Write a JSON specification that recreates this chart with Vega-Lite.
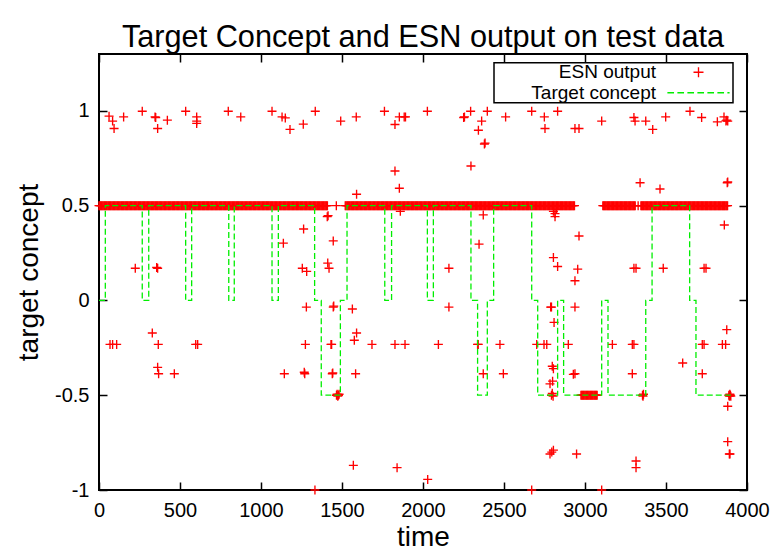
{
  "$schema": "https://vega.github.io/schema/vega-lite/v6.json",
  "width": 648,
  "height": 436,
  "autosize": {"type": "none"},
  "padding": {"left": 99, "top": 54, "right": 26, "bottom": 61},
  "background": "white",
  "title": {"text": "Target Concept and ESN output on test data", "fontSize": 30.7, "font": "Liberation Sans", "fontWeight": "normal", "color": "black", "offset": 0, "anchor": "middle"},
  "datasets": {
    "esn": [
{"t":0,"v":0.5},{"t":5,"v":0.5},{"t":10,"v":0.5},{"t":15,"v":0.5},{"t":20,"v":0.5},{"t":25,"v":0.5},{"t":30,"v":0.5},{"t":35,"v":0.5},{"t":40,"v":0.5},{"t":45,"v":0.5},{"t":50,"v":0.5},{"t":55,"v":0.5},{"t":60,"v":0.5},{"t":65,"v":0.5},{"t":70,"v":0.5},{"t":75,"v":0.5},{"t":80,"v":0.5},{"t":85,"v":0.5},{"t":90,"v":0.5},{"t":95,"v":0.5},
{"t":100,"v":0.5},{"t":105,"v":0.5},{"t":110,"v":0.5},{"t":115,"v":0.5},{"t":120,"v":0.5},{"t":125,"v":0.5},{"t":130,"v":0.5},{"t":135,"v":0.5},{"t":140,"v":0.5},{"t":145,"v":0.5},{"t":150,"v":0.5},{"t":155,"v":0.5},{"t":160,"v":0.5},{"t":165,"v":0.5},{"t":170,"v":0.5},{"t":175,"v":0.5},{"t":180,"v":0.5},{"t":185,"v":0.5},{"t":190,"v":0.5},{"t":195,"v":0.5},
{"t":200,"v":0.5},{"t":205,"v":0.5},{"t":210,"v":0.5},{"t":215,"v":0.5},{"t":220,"v":0.5},{"t":225,"v":0.5},{"t":230,"v":0.5},{"t":235,"v":0.5},{"t":240,"v":0.5},{"t":245,"v":0.5},{"t":250,"v":0.5},{"t":255,"v":0.5},{"t":260,"v":0.5},{"t":265,"v":0.5},{"t":270,"v":0.5},{"t":275,"v":0.5},{"t":280,"v":0.5},{"t":285,"v":0.5},{"t":290,"v":0.5},{"t":295,"v":0.5},
{"t":300,"v":0.5},{"t":305,"v":0.5},{"t":310,"v":0.5},{"t":315,"v":0.5},{"t":320,"v":0.5},{"t":325,"v":0.5},{"t":330,"v":0.5},{"t":335,"v":0.5},{"t":340,"v":0.5},{"t":345,"v":0.5},{"t":350,"v":0.5},{"t":355,"v":0.5},{"t":360,"v":0.5},{"t":365,"v":0.5},{"t":370,"v":0.5},{"t":375,"v":0.5},{"t":380,"v":0.5},{"t":385,"v":0.5},{"t":390,"v":0.5},{"t":395,"v":0.5},
{"t":400,"v":0.5},{"t":405,"v":0.5},{"t":410,"v":0.5},{"t":415,"v":0.5},{"t":420,"v":0.5},{"t":425,"v":0.5},{"t":430,"v":0.5},{"t":435,"v":0.5},{"t":440,"v":0.5},{"t":445,"v":0.5},{"t":450,"v":0.5},{"t":455,"v":0.5},{"t":460,"v":0.5},{"t":465,"v":0.5},{"t":470,"v":0.5},{"t":475,"v":0.5},{"t":480,"v":0.5},{"t":485,"v":0.5},{"t":490,"v":0.5},{"t":495,"v":0.5},
{"t":500,"v":0.5},{"t":505,"v":0.5},{"t":510,"v":0.5},{"t":515,"v":0.5},{"t":520,"v":0.5},{"t":525,"v":0.5},{"t":530,"v":0.5},{"t":535,"v":0.5},{"t":540,"v":0.5},{"t":545,"v":0.5},{"t":550,"v":0.5},{"t":555,"v":0.5},{"t":560,"v":0.5},{"t":565,"v":0.5},{"t":570,"v":0.5},{"t":575,"v":0.5},{"t":580,"v":0.5},{"t":585,"v":0.5},{"t":590,"v":0.5},{"t":595,"v":0.5},
{"t":600,"v":0.5},{"t":605,"v":0.5},{"t":610,"v":0.5},{"t":615,"v":0.5},{"t":620,"v":0.5},{"t":625,"v":0.5},{"t":630,"v":0.5},{"t":635,"v":0.5},{"t":640,"v":0.5},{"t":645,"v":0.5},{"t":650,"v":0.5},{"t":655,"v":0.5},{"t":660,"v":0.5},{"t":665,"v":0.5},{"t":670,"v":0.5},{"t":675,"v":0.5},{"t":680,"v":0.5},{"t":685,"v":0.5},{"t":690,"v":0.5},{"t":695,"v":0.5},
{"t":700,"v":0.5},{"t":705,"v":0.5},{"t":710,"v":0.5},{"t":715,"v":0.5},{"t":720,"v":0.5},{"t":725,"v":0.5},{"t":730,"v":0.5},{"t":735,"v":0.5},{"t":740,"v":0.5},{"t":745,"v":0.5},{"t":750,"v":0.5},{"t":755,"v":0.5},{"t":760,"v":0.5},{"t":765,"v":0.5},{"t":770,"v":0.5},{"t":775,"v":0.5},{"t":780,"v":0.5},{"t":785,"v":0.5},{"t":790,"v":0.5},{"t":795,"v":0.5},
{"t":800,"v":0.5},{"t":805,"v":0.5},{"t":810,"v":0.5},{"t":815,"v":0.5},{"t":820,"v":0.5},{"t":825,"v":0.5},{"t":830,"v":0.5},{"t":835,"v":0.5},{"t":840,"v":0.5},{"t":845,"v":0.5},{"t":850,"v":0.5},{"t":855,"v":0.5},{"t":860,"v":0.5},{"t":865,"v":0.5},{"t":870,"v":0.5},{"t":875,"v":0.5},{"t":880,"v":0.5},{"t":885,"v":0.5},{"t":890,"v":0.5},{"t":895,"v":0.5},
{"t":900,"v":0.5},{"t":905,"v":0.5},{"t":910,"v":0.5},{"t":915,"v":0.5},{"t":920,"v":0.5},{"t":925,"v":0.5},{"t":930,"v":0.5},{"t":935,"v":0.5},{"t":940,"v":0.5},{"t":945,"v":0.5},{"t":950,"v":0.5},{"t":955,"v":0.5},{"t":960,"v":0.5},{"t":965,"v":0.5},{"t":970,"v":0.5},{"t":975,"v":0.5},{"t":980,"v":0.5},{"t":985,"v":0.5},{"t":990,"v":0.5},{"t":995,"v":0.5},
{"t":1000,"v":0.5},{"t":1005,"v":0.5},{"t":1010,"v":0.5},{"t":1015,"v":0.5},{"t":1020,"v":0.5},{"t":1025,"v":0.5},{"t":1030,"v":0.5},{"t":1035,"v":0.5},{"t":1040,"v":0.5},{"t":1045,"v":0.5},{"t":1050,"v":0.5},{"t":1055,"v":0.5},{"t":1060,"v":0.5},{"t":1065,"v":0.5},{"t":1070,"v":0.5},{"t":1075,"v":0.5},{"t":1080,"v":0.5},{"t":1085,"v":0.5},{"t":1090,"v":0.5},{"t":1095,"v":0.5},
{"t":1100,"v":0.5},{"t":1105,"v":0.5},{"t":1110,"v":0.5},{"t":1115,"v":0.5},{"t":1120,"v":0.5},{"t":1125,"v":0.5},{"t":1130,"v":0.5},{"t":1135,"v":0.5},{"t":1140,"v":0.5},{"t":1145,"v":0.5},{"t":1150,"v":0.5},{"t":1155,"v":0.5},{"t":1160,"v":0.5},{"t":1165,"v":0.5},{"t":1170,"v":0.5},{"t":1175,"v":0.5},{"t":1180,"v":0.5},{"t":1185,"v":0.5},{"t":1190,"v":0.5},{"t":1195,"v":0.5},
{"t":1200,"v":0.5},{"t":1205,"v":0.5},{"t":1210,"v":0.5},{"t":1215,"v":0.5},{"t":1220,"v":0.5},{"t":1225,"v":0.5},{"t":1230,"v":0.5},{"t":1235,"v":0.5},{"t":1240,"v":0.5},{"t":1245,"v":0.5},{"t":1250,"v":0.5},{"t":1255,"v":0.5},{"t":1260,"v":0.5},{"t":1265,"v":0.5},{"t":1270,"v":0.5},{"t":1275,"v":0.5},{"t":1280,"v":0.5},{"t":1285,"v":0.5},{"t":1290,"v":0.5},{"t":1295,"v":0.5},
{"t":1300,"v":0.5},{"t":1305,"v":0.5},{"t":1310,"v":0.5},{"t":1315,"v":0.5},{"t":1320,"v":0.5},{"t":1325,"v":0.5},{"t":1330,"v":0.5},{"t":1335,"v":0.5},{"t":1340,"v":0.5},{"t":1345,"v":0.5},{"t":1350,"v":0.5},{"t":1355,"v":0.5},{"t":1360,"v":0.5},{"t":1365,"v":0.5},{"t":1370,"v":0.5},{"t":1375,"v":0.5},{"t":1380,"v":0.5},{"t":1385,"v":0.5},{"t":1390,"v":0.5},{"t":1395,"v":0.5},
{"t":1400,"v":0.5},{"t":1405,"v":0.5},{"t":1410,"v":0.5},
{"t":1465,"v":0.5},
{"t":1520,"v":0.5},{"t":1525,"v":0.5},{"t":1530,"v":0.5},{"t":1535,"v":0.5},{"t":1540,"v":0.5},{"t":1545,"v":0.5},{"t":1550,"v":0.5},{"t":1555,"v":0.5},{"t":1560,"v":0.5},{"t":1565,"v":0.5},{"t":1570,"v":0.5},{"t":1575,"v":0.5},{"t":1580,"v":0.5},{"t":1585,"v":0.5},{"t":1590,"v":0.5},{"t":1595,"v":0.5},
{"t":1600,"v":0.5},{"t":1605,"v":0.5},{"t":1610,"v":0.5},{"t":1615,"v":0.5},{"t":1620,"v":0.5},{"t":1625,"v":0.5},{"t":1630,"v":0.5},{"t":1635,"v":0.5},{"t":1640,"v":0.5},{"t":1645,"v":0.5},{"t":1650,"v":0.5},{"t":1655,"v":0.5},{"t":1660,"v":0.5},{"t":1665,"v":0.5},{"t":1670,"v":0.5},{"t":1675,"v":0.5},{"t":1680,"v":0.5},{"t":1685,"v":0.5},{"t":1690,"v":0.5},{"t":1695,"v":0.5},
{"t":1700,"v":0.5},{"t":1705,"v":0.5},{"t":1710,"v":0.5},{"t":1715,"v":0.5},{"t":1720,"v":0.5},{"t":1725,"v":0.5},{"t":1730,"v":0.5},{"t":1735,"v":0.5},{"t":1740,"v":0.5},{"t":1745,"v":0.5},{"t":1750,"v":0.5},{"t":1755,"v":0.5},{"t":1760,"v":0.5},{"t":1765,"v":0.5},{"t":1770,"v":0.5},{"t":1775,"v":0.5},{"t":1780,"v":0.5},{"t":1785,"v":0.5},{"t":1790,"v":0.5},{"t":1795,"v":0.5},
{"t":1800,"v":0.5},{"t":1805,"v":0.5},{"t":1810,"v":0.5},{"t":1815,"v":0.5},{"t":1820,"v":0.5},{"t":1825,"v":0.5},{"t":1830,"v":0.5},{"t":1835,"v":0.5},{"t":1840,"v":0.5},{"t":1845,"v":0.5},{"t":1850,"v":0.5},{"t":1855,"v":0.5},{"t":1860,"v":0.5},{"t":1865,"v":0.5},{"t":1870,"v":0.5},{"t":1875,"v":0.5},{"t":1880,"v":0.5},{"t":1885,"v":0.5},{"t":1890,"v":0.5},{"t":1895,"v":0.5},
{"t":1900,"v":0.5},{"t":1905,"v":0.5},{"t":1910,"v":0.5},{"t":1915,"v":0.5},{"t":1920,"v":0.5},{"t":1925,"v":0.5},{"t":1930,"v":0.5},{"t":1935,"v":0.5},{"t":1940,"v":0.5},{"t":1945,"v":0.5},{"t":1950,"v":0.5},{"t":1955,"v":0.5},{"t":1960,"v":0.5},{"t":1965,"v":0.5},{"t":1970,"v":0.5},{"t":1975,"v":0.5},{"t":1980,"v":0.5},{"t":1985,"v":0.5},{"t":1990,"v":0.5},{"t":1995,"v":0.5},
{"t":2000,"v":0.5},{"t":2005,"v":0.5},{"t":2010,"v":0.5},{"t":2015,"v":0.5},{"t":2020,"v":0.5},{"t":2025,"v":0.5},{"t":2030,"v":0.5},{"t":2035,"v":0.5},{"t":2040,"v":0.5},{"t":2045,"v":0.5},{"t":2050,"v":0.5},{"t":2055,"v":0.5},{"t":2060,"v":0.5},{"t":2065,"v":0.5},{"t":2070,"v":0.5},{"t":2075,"v":0.5},{"t":2080,"v":0.5},{"t":2085,"v":0.5},{"t":2090,"v":0.5},{"t":2095,"v":0.5},
{"t":2100,"v":0.5},{"t":2105,"v":0.5},{"t":2110,"v":0.5},{"t":2115,"v":0.5},{"t":2120,"v":0.5},{"t":2125,"v":0.5},{"t":2130,"v":0.5},{"t":2135,"v":0.5},{"t":2140,"v":0.5},{"t":2145,"v":0.5},{"t":2150,"v":0.5},{"t":2155,"v":0.5},{"t":2160,"v":0.5},{"t":2165,"v":0.5},{"t":2170,"v":0.5},{"t":2175,"v":0.5},{"t":2180,"v":0.5},{"t":2185,"v":0.5},{"t":2190,"v":0.5},{"t":2195,"v":0.5},
{"t":2200,"v":0.5},{"t":2205,"v":0.5},{"t":2210,"v":0.5},{"t":2215,"v":0.5},{"t":2220,"v":0.5},{"t":2225,"v":0.5},{"t":2230,"v":0.5},{"t":2235,"v":0.5},{"t":2240,"v":0.5},{"t":2245,"v":0.5},{"t":2250,"v":0.5},{"t":2255,"v":0.5},{"t":2260,"v":0.5},{"t":2265,"v":0.5},{"t":2270,"v":0.5},{"t":2275,"v":0.5},{"t":2280,"v":0.5},{"t":2285,"v":0.5},{"t":2290,"v":0.5},{"t":2295,"v":0.5},
{"t":2300,"v":0.5},{"t":2305,"v":0.5},{"t":2310,"v":0.5},{"t":2315,"v":0.5},{"t":2320,"v":0.5},{"t":2325,"v":0.5},{"t":2330,"v":0.5},{"t":2335,"v":0.5},{"t":2340,"v":0.5},{"t":2345,"v":0.5},{"t":2350,"v":0.5},{"t":2355,"v":0.5},{"t":2360,"v":0.5},{"t":2365,"v":0.5},{"t":2370,"v":0.5},{"t":2375,"v":0.5},{"t":2380,"v":0.5},{"t":2385,"v":0.5},{"t":2390,"v":0.5},{"t":2395,"v":0.5},
{"t":2400,"v":0.5},{"t":2405,"v":0.5},{"t":2410,"v":0.5},{"t":2415,"v":0.5},{"t":2420,"v":0.5},{"t":2425,"v":0.5},{"t":2430,"v":0.5},{"t":2435,"v":0.5},{"t":2440,"v":0.5},{"t":2445,"v":0.5},{"t":2450,"v":0.5},{"t":2455,"v":0.5},{"t":2460,"v":0.5},{"t":2465,"v":0.5},{"t":2470,"v":0.5},{"t":2475,"v":0.5},{"t":2480,"v":0.5},{"t":2485,"v":0.5},{"t":2490,"v":0.5},{"t":2495,"v":0.5},
{"t":2500,"v":0.5},{"t":2505,"v":0.5},{"t":2510,"v":0.5},{"t":2515,"v":0.5},{"t":2520,"v":0.5},{"t":2525,"v":0.5},{"t":2530,"v":0.5},{"t":2535,"v":0.5},{"t":2540,"v":0.5},{"t":2545,"v":0.5},{"t":2550,"v":0.5},{"t":2555,"v":0.5},{"t":2560,"v":0.5},{"t":2565,"v":0.5},{"t":2570,"v":0.5},{"t":2575,"v":0.5},{"t":2580,"v":0.5},{"t":2585,"v":0.5},{"t":2590,"v":0.5},{"t":2595,"v":0.5},
{"t":2600,"v":0.5},{"t":2605,"v":0.5},{"t":2610,"v":0.5},{"t":2615,"v":0.5},{"t":2620,"v":0.5},{"t":2625,"v":0.5},{"t":2630,"v":0.5},{"t":2635,"v":0.5},{"t":2640,"v":0.5},{"t":2645,"v":0.5},{"t":2650,"v":0.5},{"t":2655,"v":0.5},{"t":2660,"v":0.5},{"t":2665,"v":0.5},{"t":2670,"v":0.5},{"t":2675,"v":0.5},{"t":2680,"v":0.5},{"t":2685,"v":0.5},{"t":2690,"v":0.5},{"t":2695,"v":0.5},
{"t":2700,"v":0.5},{"t":2705,"v":0.5},{"t":2710,"v":0.5},{"t":2715,"v":0.5},{"t":2720,"v":0.5},{"t":2725,"v":0.5},{"t":2730,"v":0.5},{"t":2735,"v":0.5},{"t":2740,"v":0.5},{"t":2745,"v":0.5},{"t":2750,"v":0.5},{"t":2755,"v":0.5},{"t":2760,"v":0.5},{"t":2765,"v":0.5},{"t":2770,"v":0.5},{"t":2775,"v":0.5},{"t":2780,"v":0.5},{"t":2785,"v":0.5},{"t":2790,"v":0.5},{"t":2795,"v":0.5},
{"t":2800,"v":0.5},{"t":2805,"v":0.5},{"t":2810,"v":0.5},{"t":2815,"v":0.5},{"t":2820,"v":0.5},{"t":2825,"v":0.5},{"t":2830,"v":0.5},{"t":2835,"v":0.5},{"t":2840,"v":0.5},{"t":2845,"v":0.5},{"t":2850,"v":0.5},{"t":2855,"v":0.5},{"t":2860,"v":0.5},{"t":2865,"v":0.5},{"t":2870,"v":0.5},{"t":2875,"v":0.5},{"t":2880,"v":0.5},{"t":2885,"v":0.5},{"t":2890,"v":0.5},{"t":2895,"v":0.5},
{"t":2900,"v":0.5},{"t":2905,"v":0.5},{"t":2910,"v":0.5},{"t":2915,"v":0.5},{"t":2920,"v":0.5},{"t":2925,"v":0.5},{"t":2930,"v":0.5},{"t":2935,"v":0.5},
{"t":3110,"v":0.5},{"t":3115,"v":0.5},{"t":3120,"v":0.5},{"t":3125,"v":0.5},{"t":3130,"v":0.5},{"t":3135,"v":0.5},{"t":3140,"v":0.5},{"t":3145,"v":0.5},{"t":3150,"v":0.5},{"t":3155,"v":0.5},{"t":3160,"v":0.5},{"t":3165,"v":0.5},{"t":3170,"v":0.5},{"t":3175,"v":0.5},{"t":3180,"v":0.5},{"t":3185,"v":0.5},{"t":3190,"v":0.5},{"t":3195,"v":0.5},
{"t":3200,"v":0.5},{"t":3205,"v":0.5},{"t":3210,"v":0.5},{"t":3215,"v":0.5},{"t":3220,"v":0.5},{"t":3225,"v":0.5},{"t":3230,"v":0.5},{"t":3235,"v":0.5},{"t":3240,"v":0.5},{"t":3245,"v":0.5},{"t":3250,"v":0.5},{"t":3255,"v":0.5},{"t":3260,"v":0.5},{"t":3265,"v":0.5},{"t":3270,"v":0.5},{"t":3275,"v":0.5},{"t":3280,"v":0.5},{"t":3285,"v":0.5},{"t":3290,"v":0.5},{"t":3295,"v":0.5},
{"t":3300,"v":0.5},{"t":3305,"v":0.5},{"t":3310,"v":0.5},
{"t":3328,"v":0.5},
{"t":3345,"v":0.5},{"t":3350,"v":0.5},{"t":3355,"v":0.5},{"t":3360,"v":0.5},{"t":3365,"v":0.5},{"t":3370,"v":0.5},{"t":3375,"v":0.5},{"t":3380,"v":0.5},{"t":3385,"v":0.5},{"t":3390,"v":0.5},{"t":3395,"v":0.5},
{"t":3400,"v":0.5},{"t":3405,"v":0.5},{"t":3410,"v":0.5},{"t":3415,"v":0.5},{"t":3420,"v":0.5},{"t":3425,"v":0.5},{"t":3430,"v":0.5},{"t":3435,"v":0.5},{"t":3440,"v":0.5},{"t":3445,"v":0.5},{"t":3450,"v":0.5},{"t":3455,"v":0.5},{"t":3460,"v":0.5},{"t":3465,"v":0.5},{"t":3470,"v":0.5},{"t":3475,"v":0.5},{"t":3480,"v":0.5},{"t":3485,"v":0.5},{"t":3490,"v":0.5},{"t":3495,"v":0.5},
{"t":3500,"v":0.5},{"t":3505,"v":0.5},{"t":3510,"v":0.5},{"t":3515,"v":0.5},{"t":3520,"v":0.5},{"t":3525,"v":0.5},{"t":3530,"v":0.5},{"t":3535,"v":0.5},{"t":3540,"v":0.5},{"t":3545,"v":0.5},{"t":3550,"v":0.5},{"t":3555,"v":0.5},{"t":3560,"v":0.5},{"t":3565,"v":0.5},{"t":3570,"v":0.5},{"t":3575,"v":0.5},{"t":3580,"v":0.5},{"t":3585,"v":0.5},{"t":3590,"v":0.5},{"t":3595,"v":0.5},
{"t":3600,"v":0.5},{"t":3605,"v":0.5},{"t":3610,"v":0.5},{"t":3615,"v":0.5},{"t":3620,"v":0.5},{"t":3625,"v":0.5},{"t":3630,"v":0.5},{"t":3635,"v":0.5},{"t":3640,"v":0.5},{"t":3645,"v":0.5},{"t":3650,"v":0.5},{"t":3655,"v":0.5},{"t":3660,"v":0.5},{"t":3665,"v":0.5},{"t":3670,"v":0.5},{"t":3675,"v":0.5},{"t":3680,"v":0.5},{"t":3685,"v":0.5},{"t":3690,"v":0.5},{"t":3695,"v":0.5},
{"t":3700,"v":0.5},{"t":3705,"v":0.5},{"t":3710,"v":0.5},{"t":3715,"v":0.5},{"t":3720,"v":0.5},{"t":3725,"v":0.5},{"t":3730,"v":0.5},{"t":3735,"v":0.5},{"t":3740,"v":0.5},{"t":3745,"v":0.5},{"t":3750,"v":0.5},{"t":3755,"v":0.5},{"t":3760,"v":0.5},{"t":3765,"v":0.5},{"t":3770,"v":0.5},{"t":3775,"v":0.5},{"t":3780,"v":0.5},{"t":3785,"v":0.5},{"t":3790,"v":0.5},{"t":3795,"v":0.5},
{"t":3800,"v":0.5},{"t":3805,"v":0.5},{"t":3810,"v":0.5},{"t":3815,"v":0.5},{"t":3820,"v":0.5},{"t":3825,"v":0.5},{"t":3830,"v":0.5},{"t":3835,"v":0.5},{"t":3840,"v":0.5},{"t":3845,"v":0.5},{"t":3850,"v":0.5},{"t":3855,"v":0.5},{"t":3860,"v":0.5},{"t":3865,"v":0.5},{"t":3870,"v":0.5},{"t":3875,"v":0.5},{"t":3880,"v":0.5},
{"t":1466,"v":-0.5},{"t":1470,"v":-0.495},{"t":1474,"v":-0.505},{"t":1478,"v":-0.5},{"t":1482,"v":-0.495},
{"t":2793,"v":-0.5},{"t":2798,"v":-0.49},{"t":2803,"v":-0.505},
{"t":2975,"v":-0.5},{"t":2980,"v":-0.5},{"t":2985,"v":-0.5},{"t":2990,"v":-0.5},{"t":2995,"v":-0.5},{"t":3000,"v":-0.5},{"t":3005,"v":-0.5},{"t":3010,"v":-0.5},{"t":3015,"v":-0.5},{"t":3020,"v":-0.5},{"t":3025,"v":-0.5},{"t":3030,"v":-0.5},{"t":3035,"v":-0.5},{"t":3040,"v":-0.5},{"t":3045,"v":-0.5},{"t":3050,"v":-0.5},{"t":3055,"v":-0.5},{"t":3060,"v":-0.5},{"t":3065,"v":-0.5},{"t":3070,"v":-0.5},{"t":3075,"v":-0.5},
{"t":3355,"v":-0.5},{"t":3358,"v":-0.505},{"t":3361,"v":-0.495},
{"t":3888,"v":-0.5},{"t":3891,"v":-0.505},{"t":3894,"v":-0.495},{"t":3897,"v":-0.5},{"t":3900,"v":-0.505},
{"t":62,"v":0.972},{"t":84,"v":0.946},{"t":93,"v":0.907},{"t":152,"v":0.968},{"t":267,"v":0.998},{"t":346,"v":0.968},{"t":350,"v":0.965},{"t":362,"v":0.907},{"t":422,"v":0.951},{"t":535,"v":0.998},{"t":603,"v":0.968},{"t":603,"v":0.946},{"t":603,"v":0.934},{"t":798,"v":0.998},{"t":875,"v":0.968},{"t":1068,"v":0.998},{"t":1130,"v":0.968},{"t":1150,"v":0.963},{"t":1179,"v":0.902},{"t":1261,"v":0.93},{"t":1335,"v":0.998},{"t":1492,"v":0.946},{"t":1588,"v":0.968},{"t":1762,"v":0.998},{"t":1827,"v":0.928},{"t":1854,"v":0.968},{"t":1884,"v":0.968},{"t":1892,"v":0.968},{"t":2027,"v":0.998},{"t":2251,"v":0.965},{"t":2256,"v":0.968},{"t":2294,"v":0.998},{"t":2342,"v":0.898},{"t":2362,"v":0.946},{"t":2379,"v":0.825},{"t":2383,"v":0.83},{"t":2397,"v":0.998},{"t":2510,"v":0.968},{"t":2671,"v":0.998},{"t":2749,"v":0.968},{"t":2753,"v":0.907},{"t":2831,"v":0.998},{"t":2938,"v":0.907},{"t":2963,"v":0.907},{"t":3103,"v":0.946},{"t":3302,"v":0.965},{"t":3309,"v":0.946},{"t":3375,"v":0.946},{"t":3418,"v":0.902},{"t":3498,"v":0.968},{"t":3648,"v":0.998},{"t":3720,"v":0.965},{"t":3817,"v":0.942},{"t":3858,"v":0.968},{"t":3870,"v":0.947},{"t":3875,"v":0.951},{"t":3881,"v":0.946},
{"t":1827,"v":0.683},{"t":1854,"v":0.592},{"t":2296,"v":0.709},{"t":3340,"v":0.621},{"t":3463,"v":0.588},{"t":3878,"v":0.621},{"t":3881,"v":0.625},{"t":1590,"v":0.56},
{"t":1409,"v":0.442},{"t":1414,"v":0.447},{"t":1263,"v":0.377},{"t":1446,"v":0.314},{"t":1138,"v":0.302},{"t":224,"v":0.17},{"t":356,"v":0.174},{"t":362,"v":0.17},{"t":1255,"v":0.17},{"t":1282,"v":0.153},{"t":1412,"v":0.197},{"t":1420,"v":0.17},{"t":3860,"v":0.398},{"t":2963,"v":0.34},{"t":2372,"v":0.451},{"t":2815,"v":0.442},{"t":1860,"v":0.47},{"t":2346,"v":0.297},{"t":2805,"v":0.226},{"t":2831,"v":0.179},{"t":2955,"v":0.165},{"t":2938,"v":0.104},{"t":2160,"v":0.17},{"t":3302,"v":0.17},{"t":3315,"v":0.17},{"t":3483,"v":0.17},{"t":3735,"v":0.17},{"t":3747,"v":0.17},{"t":2805,"v":0.47},{"t":2815,"v":0.458},{"t":2825,"v":0.48},
{"t":1280,"v":-0.035},{"t":1446,"v":-0.035},{"t":1449,"v":-0.03},{"t":1564,"v":-0.045},{"t":329,"v":-0.172},{"t":68,"v":-0.232},{"t":84,"v":-0.232},{"t":109,"v":-0.232},{"t":366,"v":-0.232},{"t":597,"v":-0.232},{"t":609,"v":-0.232},{"t":1274,"v":-0.232},{"t":1432,"v":-0.232},{"t":1436,"v":-0.232},{"t":1590,"v":-0.172},{"t":1576,"v":-0.21},{"t":1685,"v":-0.232},{"t":362,"v":-0.353},{"t":368,"v":-0.387},{"t":465,"v":-0.387},{"t":1144,"v":-0.387},{"t":1267,"v":-0.379},{"t":1270,"v":-0.387},{"t":1440,"v":-0.387},{"t":1443,"v":-0.383},{"t":1584,"v":-0.387},{"t":2160,"v":-0.035},{"t":2788,"v":-0.035},{"t":2793,"v":-0.035},{"t":2938,"v":-0.035},{"t":2809,"v":-0.116},{"t":1827,"v":-0.232},{"t":1889,"v":-0.232},{"t":2095,"v":-0.232},{"t":2337,"v":-0.232},{"t":2341,"v":-0.232},{"t":2475,"v":-0.232},{"t":2702,"v":-0.232},{"t":2747,"v":-0.232},{"t":2764,"v":-0.232},{"t":2897,"v":-0.232},{"t":3169,"v":-0.232},{"t":3292,"v":-0.232},{"t":3302,"v":-0.232},{"t":3724,"v":-0.232},{"t":3735,"v":-0.232},{"t":3848,"v":-0.232},{"t":3868,"v":-0.232},{"t":3875,"v":-0.154},{"t":3603,"v":-0.33},{"t":2372,"v":-0.387},{"t":2496,"v":-0.387},{"t":2798,"v":-0.347},{"t":2805,"v":-0.36},{"t":2928,"v":-0.39},{"t":2938,"v":-0.387},{"t":3292,"v":-0.387},{"t":3724,"v":-0.387},{"t":2800,"v":-0.426},{"t":2784,"v":-0.44},
{"t":3881,"v":-0.558},{"t":1570,"v":-0.87},{"t":1840,"v":-0.882},{"t":1333,"v":-1},{"t":2029,"v":-0.944},{"t":2671,"v":-1},{"t":3103,"v":-1},{"t":2784,"v":-0.81},{"t":2795,"v":-0.8},{"t":2805,"v":-0.79},{"t":2948,"v":-0.81},{"t":3315,"v":-0.847},{"t":3315,"v":-0.882},{"t":3881,"v":-0.745},{"t":3891,"v":-0.81},{"t":3895,"v":-0.81}
    ],
    "target": [
{"t":0,"v":0},{"t":39,"v":0.5},{"t":267,"v":0},{"t":307,"v":0.5},{"t":535,"v":0},{"t":572,"v":0.5},{"t":801,"v":0},{"t":835,"v":0.5},{"t":1068,"v":0},{"t":1107,"v":0.5},{"t":1331,"v":0},{"t":1372,"v":-0.5},{"t":1490,"v":0},{"t":1531,"v":0.5},{"t":1764,"v":0},{"t":1806,"v":0.5},{"t":2027,"v":0},{"t":2064,"v":0.5},{"t":2296,"v":0},{"t":2337,"v":-0.5},{"t":2397,"v":0},{"t":2436,"v":0.5},{"t":2671,"v":0},{"t":2708,"v":-0.5},{"t":2831,"v":0},{"t":2868,"v":-0.5},{"t":3103,"v":0},{"t":3142,"v":-0.5},{"t":3375,"v":0},{"t":3414,"v":0.5},{"t":3646,"v":0},{"t":3685,"v":-0.5},{"t":3900,"v":-0.5}
    ]
  },
  "layer": [
    {
      "data": {"name": "esn"},
      "mark": {"type": "point", "filled": false, "size": 81, "strokeWidth": 1.35, "opacity": 1},
      "encoding": {
        "x": {"field": "t", "type": "quantitative", "scale": {"domain": [0, 4000], "nice": false, "zero": false},
              "axis": {"orient": "bottom", "values": [0, 500, 1000, 1500, 2000, 2500, 3000, 3500, 4000], "format": "d", "title": "time", "titlePadding": 3}},
        "y": {"field": "v", "type": "quantitative", "scale": {"domain": [-1, 1.3], "nice": false, "zero": false},
              "axis": {"orient": "left", "values": [-1, -0.5, 0, 0.5, 1], "format": "~g", "labelExpr": "replace(datum.label, '−', '-')", "title": "target concept", "titlePadding": 11}},
        "color": {"datum": "ESN output", "type": "nominal",
                  "scale": {"domain": ["ESN output", "Target concept"], "range": ["#ff0000", "#00ee00"]},
                  "legend": {"orient": "none", "legendX": 395, "legendY": 8.7, "title": null, "labelExpr": "'\u00a0\u00a0\u00a0\u00a0\u00a0' + datum.label"}},
        "shape": {"datum": "ESN output", "type": "nominal",
                  "scale": {"domain": ["ESN output", "Target concept"], "range": ["M-1,0L1,0M0,-1L0,1", "M-6.22,0L-4.89,0M-4.22,0L-2.89,0M-2.22,0L-0.89,0M-0.22,0L1.11,0M1.78,0L3.11,0M3.78,0L5.11,0M5.78,0L6.22,0"]},
                  "legend": {"orient": "none", "legendX": 395, "legendY": 8.7, "title": null, "labelExpr": "'\u00a0\u00a0\u00a0\u00a0\u00a0' + datum.label"}}
      }
    },
    {
      "data": {"name": "target"},
      "mark": {"type": "line", "interpolate": "step-after", "color": "#00ee00", "strokeDash": [6, 3], "strokeWidth": 1.3},
      "encoding": {
        "x": {"field": "t", "type": "quantitative", "scale": {"domain": [0, 4000], "nice": false, "zero": false},
              "axis": {"orient": "top", "values": [0, 500, 1000, 1500, 2000, 2500, 3000, 3500, 4000], "labels": false, "title": null}},
        "y": {"field": "v", "type": "quantitative", "scale": {"domain": [-1, 1.3], "nice": false, "zero": false},
              "axis": {"orient": "right", "values": [-1, -0.5, 0, 0.5, 1], "labels": false, "title": null}}
      }
    }
  ],
  "resolve": {"scale": {"x": "independent", "y": "independent"}, "axis": {"x": "independent", "y": "independent"}},
  "config": {
    "view": {"stroke": "black", "strokeWidth": 2},
    "axis": {"domain": false, "grid": false, "ticks": true, "tickSize": -8, "tickColor": "black", "tickWidth": 1.5,
             "labelFont": "Liberation Sans", "labelFontSize": 20, "labelColor": "black", "labelPadding": 18, "labelFlush": false,
             "titleFont": "Liberation Sans", "titleFontSize": 28, "titleFontWeight": "normal", "titleColor": "black"},
    "legend": {"padding": 0, "rowPadding": 0.5, "strokeColor": "black", "strokeWidth": 1.5, "fillColor": "white",
               "labelFont": "Liberation Sans", "labelFontSize": 19, "labelColor": "black", "labelAlign": "right",
               "labelOffset": -52, "symbolOffset": 195, "symbolStrokeWidth": 1.35, "labelLimit": 400}
  }
}
